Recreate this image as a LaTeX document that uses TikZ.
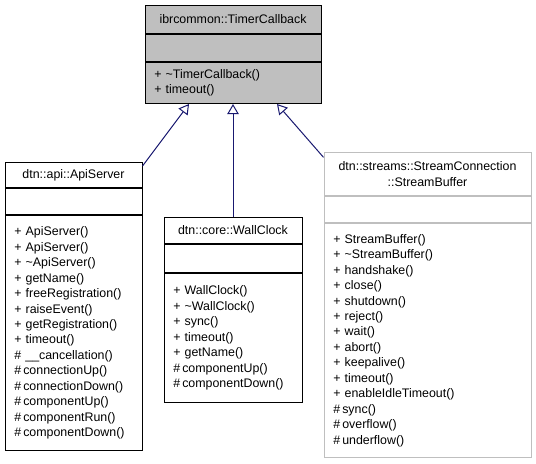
\documentclass[tikz,border=0pt]{standalone}
\usepackage{fontspec}
\setmainfont{Liberation Sans}
\usetikzlibrary{arrows.meta, positioning}
\definecolor{edgeblue}{HTML}{191970}
\definecolor{headgray}{HTML}{BFBFBF}

\begin{document}
\begin{tikzpicture}[
  x=0.75pt, y=-0.75pt,
  cls/.style={rectangle, draw, inner xsep=7pt, inner ysep=0pt,
              font=\fontsize{9.3}{11.6}\selectfont, line width=0.75pt},
  head/.style={cls, align=center},
  body/.style={cls, align=left, execute at begin node={\hyphenpenalty=10000}},
  inherit/.style={draw=edgeblue, line width=0.75pt,
                  -{Triangle[open, length=7.5pt, width=8.5pt]}}
]
\useasboundingbox (0,0) rectangle (536,464);

% base class
\node[head, fill=headgray, minimum width=132pt, minimum height=21pt, anchor=north] (tcT) at (233,5) {ibrcommon::TimerCallback};
\node[cls, fill=headgray, minimum width=132pt, minimum height=20.25pt, below=0pt of tcT] (tcA) {};
\node[body, fill=headgray, minimum width=132pt, text width=118pt, minimum height=30.75pt, below=0pt of tcA] (tcO)
  {+ \textasciitilde TimerCallback()\\+ timeout()};

% dtn::api::ApiServer
\node[head, minimum width=102.75pt, minimum height=18.75pt, anchor=north] (apiT) at (73.5,162) {dtn::api::ApiServer};
\node[cls, minimum width=102.75pt, minimum height=19.5pt, below=0pt of apiT] (apiA) {};
\node[body, minimum width=102.75pt, text width=88.75pt, minimum height=176.25pt, below=0pt of apiA] (apiO)
  {+ ApiServer()\\+ ApiServer()\\+ \textasciitilde ApiServer()\\+ getName()\\+ freeRegistration()\\+ raiseEvent()\\+ getRegistration()\\+ timeout()\\\# \_\_cancellation()\\\#\,connectionUp()\\\#\,connectionDown()\\\#\,componentUp()\\\#\,componentRun()\\\#\,componentDown()};

% dtn::core::WallClock
\node[head, minimum width=103.5pt, minimum height=19.5pt, anchor=north] (wcT) at (233,217) {dtn::core::WallClock};
\node[cls, minimum width=103.5pt, minimum height=21pt, below=0pt of wcT] (wcA) {};
\node[body, minimum width=103.5pt, text width=89.5pt, minimum height=96.75pt, below=0pt of wcA] (wcO)
  {+ WallClock()\\+ \textasciitilde WallClock()\\+ sync()\\+ timeout()\\+ getName()\\\#\,componentUp()\\\#\,componentDown()};

% dtn::streams::StreamConnection::StreamBuffer
\node[head, draw=headgray, minimum width=155.25pt, minimum height=32.25pt, anchor=north] (sbT) at (427.5,152)
  {dtn::streams::StreamConnection\\::StreamBuffer};
\node[cls, draw=headgray, minimum width=155.25pt, minimum height=19.5pt, below=0pt of sbT] (sbA) {};
\node[body, draw=headgray, minimum width=155.25pt, text width=141.25pt, minimum height=175.5pt, below=0pt of sbA] (sbO)
  {+ StreamBuffer()\\+ \textasciitilde StreamBuffer()\\+ handshake()\\+ close()\\+ shutdown()\\+ reject()\\+ wait()\\+ abort()\\+ keepalive()\\+ timeout()\\+ enableIdleTimeout()\\\#\,sync()\\\#\,overflow()\\\#\,underflow()};

% inheritance
\draw[inherit] ([yshift=-3pt]apiT.north east) -- ([xshift=-33pt]tcO.south);
\draw[inherit] (wcT.north) -- (tcO.south);
\draw[inherit] ([yshift=-4pt]sbT.north west) -- ([xshift=33pt]tcO.south);
\end{tikzpicture}
\end{document}
